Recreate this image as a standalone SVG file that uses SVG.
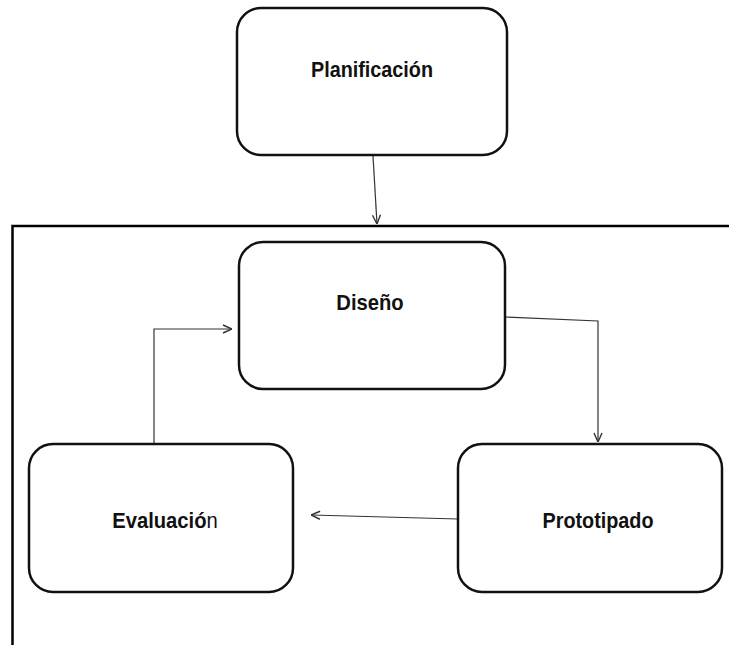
<svg xmlns="http://www.w3.org/2000/svg" width="729" height="645" viewBox="0 0 729 645">
<style>
.box{fill:#fff;stroke:#111;stroke-width:2.5}
.lbl{font-family:"Liberation Sans",Arial,sans-serif;font-weight:bold;font-size:22px;fill:#111;text-anchor:middle}
.con{fill:none;stroke:#333;stroke-width:1.2}
.frame{fill:none;stroke:#000;stroke-width:2.5}
</style>
<defs>
<marker id="arr" viewBox="0 0 10 10" refX="10" refY="5" markerWidth="10" markerHeight="10" markerUnits="userSpaceOnUse" orient="auto">
<path d="M1,1 L10,5 L1,9" fill="none" stroke="#333" stroke-width="1.4"/>
</marker>
</defs>
<rect width="729" height="645" fill="#fff"/>
<path class="frame" d="M12.5,645 V226 H729"/>
<g id="connectors">
<path class="con" d="M373,156 L377,224" marker-end="url(#arr)"/>
<path class="con" d="M505,317 L598,321 V442" marker-end="url(#arr)"/>
<path class="con" d="M458,519 L311,515" marker-end="url(#arr)"/>
<path class="con" d="M154,443 V329 H232" marker-end="url(#arr)"/>
</g>
<g id="planificacion">
<rect class="box" x="237" y="8" width="270" height="147" rx="24"/>
<text class="lbl" transform="translate(372,77) scale(0.9,1)">Planificación</text>
</g>
<g id="diseno">
<rect class="box" x="239" y="242" width="266" height="147" rx="24"/>
<text class="lbl" transform="translate(370,310) scale(0.92,1)">Diseño</text>
</g>
<g id="evaluacion">
<rect class="box" x="29" y="444" width="264" height="148" rx="24"/>
<text class="lbl" transform="translate(165,528) scale(0.92,1)">Evaluació<tspan font-weight="normal">n</tspan></text>
</g>
<g id="prototipado">
<rect class="box" x="458" y="444" width="264" height="148" rx="24"/>
<text class="lbl" transform="translate(598,528) scale(0.9,1)">Prototipado</text>
</g>
</svg>
